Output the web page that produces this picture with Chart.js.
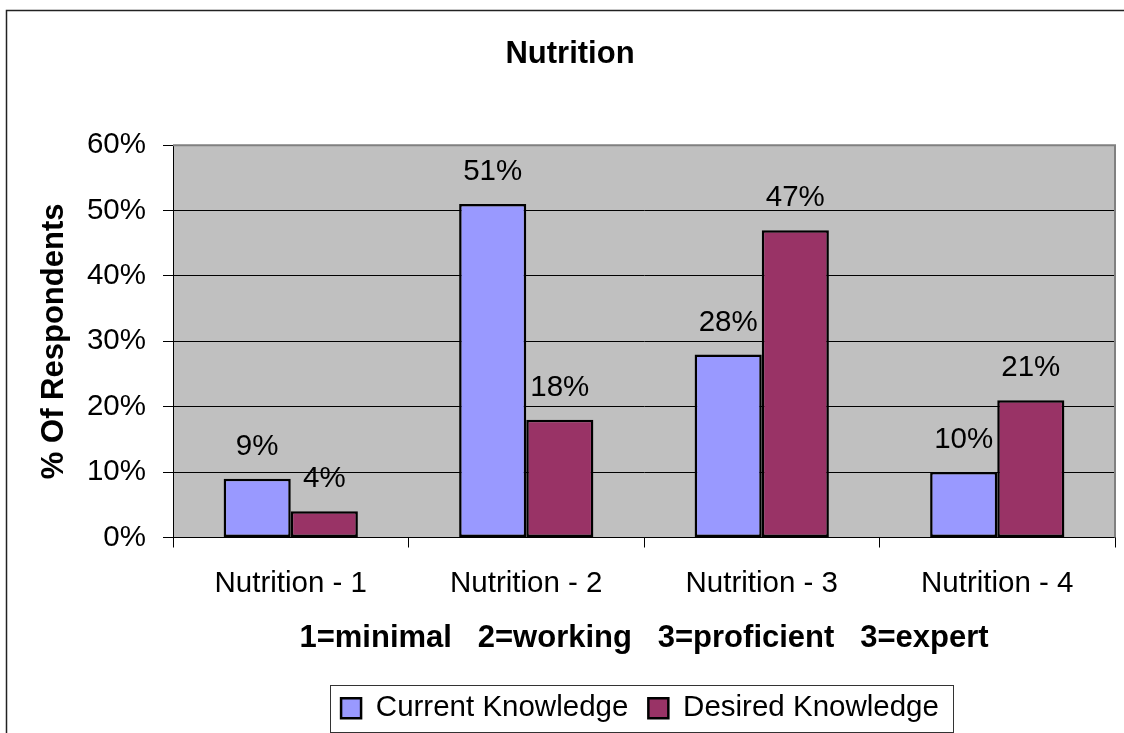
<!DOCTYPE html>
<html>
<head>
<meta charset="utf-8">
<script src="https://cdn.jsdelivr.net/npm/chart.js@4.4.0/dist/chart.umd.min.js"></script>
<style>
  html, body { margin: 0; padding: 0; background: #fff; }
  #wrap { width: 1124px; height: 733px; position: relative; }
</style>
</head>
<body>
<div id="wrap"><canvas id="chart"></canvas></div>
<script>
const categories = ['Nutrition - 1', 'Nutrition - 2', 'Nutrition - 3', 'Nutrition - 4'];
const currentKnowledge = [9, 51, 28, 10];
const desiredKnowledge = [4, 18, 47, 21];
const seriesNames = ['Current Knowledge', 'Desired Knowledge'];
const chartTitle = 'Nutrition';
const xTitle = '1=minimal   2=working   3=proficient   3=expert';
const yTitle = '% Of Respondents';

const FONT = '"Liberation Sans", Arial, sans-serif';

// plot background, outer frame, gray top/right edge of plot
const framePlugin = {
  id: 'frame',
  beforeDraw(chart) {
    const ctx = chart.ctx, a = chart.chartArea;
    ctx.save();
    ctx.fillStyle = '#fff';
    ctx.fillRect(0, 0, chart.width, chart.height);
    ctx.fillStyle = '#c0c0c0';
    ctx.fillRect(a.left, a.top, a.right - a.left, a.bottom - a.top);
    ctx.strokeStyle = '#222';
    ctx.lineWidth = 1.5;
    ctx.beginPath();
    ctx.moveTo(6.5, chart.height);
    ctx.lineTo(6.5, 10.5);
    ctx.lineTo(chart.width, 10.5);
    ctx.stroke();
    ctx.restore();
  },
  afterDatasetsDraw(chart) {
    const ctx = chart.ctx, a = chart.chartArea;
    ctx.save();
    ctx.strokeStyle = '#808080';
    ctx.lineWidth = 2;
    ctx.beginPath();
    ctx.moveTo(a.left, a.top);
    ctx.lineTo(a.right, a.top);
    ctx.lineTo(a.right, a.bottom);
    ctx.stroke();
    // value labels above bars
    ctx.fillStyle = '#000';
    ctx.font = '29.5px ' + FONT;
    ctx.textAlign = 'center';
    ctx.textBaseline = 'middle';
    chart.data.datasets.forEach((ds, i) => {
      chart.getDatasetMeta(i).data.forEach((bar, j) => {
        ctx.fillText(ds.data[j] + '%', bar.x, bar.y - 32);
      });
    });
    ctx.restore();
  },
  afterLayout(chart) {
    // legend centred under the plot area, title a bit right of the layout centre
    chart.legend.left = chart.chartArea.left - 4;
    chart.legend.right = chart.chartArea.right - 4;
    chart.titleBlock.left = 16;
    chart.titleBlock.right = chart.width;
  },
  afterDraw(chart) {
    const boxes = chart.legend.legendHitBoxes;
    if (!boxes || !boxes.length) return;
    const first = boxes[0], last = boxes[boxes.length - 1];
    const ctx = chart.ctx;
    ctx.save();
    ctx.strokeStyle = '#333';
    ctx.lineWidth = 1;
    const l = Math.round(first.left - 11) + 0.5;
    const t = Math.round(first.top - 9) + 0.5;
    const r = Math.round(last.left + last.width + 14) + 0.5;
    const b = Math.round(first.top + first.height + 9) + 0.5;
    ctx.strokeRect(l, t, r - l, b - t);
    ctx.restore();
  }
};

new Chart(document.getElementById('chart'), {
  type: 'bar',
  data: {
    labels: categories,
    datasets: [
      {
        label: seriesNames[0],
        data: currentKnowledge,
        backgroundColor: '#9999ff',
        borderColor: '#000',
        borderWidth: 2.5,
        borderSkipped: false
      },
      {
        label: seriesNames[1],
        data: desiredKnowledge,
        backgroundColor: '#993366',
        borderColor: '#000',
        borderWidth: 2.5,
        borderSkipped: false
      }
    ]
  },
  options: {
    responsive: true,
    maintainAspectRatio: false,
    animation: false,
    layout: { padding: { left: 0, right: 9, top: 0, bottom: 0 } },
    datasets: { bar: { categoryPercentage: 0.57, barPercentage: 1 } },
    plugins: {
      tooltip: { enabled: false },
      title: {
        display: true,
        text: chartTitle,
        color: '#000',
        font: { family: FONT, size: 31, weight: 'bold' },
        padding: { top: 36, bottom: 72 }
      },
      legend: {
        position: 'bottom',
        labels: {
          color: '#000',
          font: { family: FONT, size: 29.5 },
          boxWidth: 20,
          boxHeight: 20,
          padding: 20
        }
      }
    },
    scales: {
      x: {
        grid: {
          display: true,
          drawOnChartArea: false,
          color: '#000',
          tickLength: 10
        },
        border: { color: '#000', width: 1 },
        ticks: {
          color: '#000',
          font: { family: FONT, size: 29.5 },
          padding: 19,
          maxRotation: 0
        },
        title: {
          display: true,
          text: xTitle,
          color: '#000',
          font: { family: FONT, size: 31, weight: 'bold' },
          padding: { top: 0, bottom: 16 }
        },
        afterFit(scale) { scale.height = 136; }
      },
      y: {
        min: 0,
        max: 60,
        grid: {
          color: (c) => (c.tick && c.tick.value === 60 ? 'rgba(0,0,0,0)' : '#000'),
          tickColor: '#000',
          tickLength: 10,
          lineWidth: 1
        },
        border: { color: '#000', width: 1 },
        ticks: {
          stepSize: 10,
          color: '#000',
          font: { family: FONT, size: 29.5 },
          padding: 17,
          callback: (v) => v + '%'
        },
        title: {
          display: true,
          text: yTitle,
          color: '#000',
          font: { family: FONT, size: 31, weight: 'bold' },
          padding: { top: 36, bottom: 0 }
        },
        afterFit(scale) { scale.width = 173; }
      }
    }
  },
  plugins: [framePlugin]
});
</script>
</body>
</html>
